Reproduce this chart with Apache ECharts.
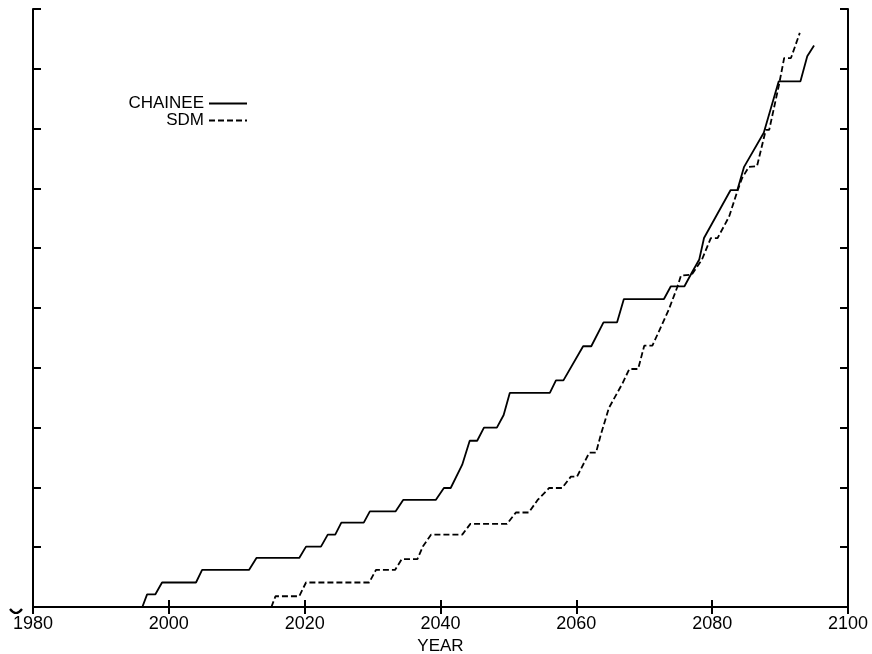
<!DOCTYPE html>
<html>
<head>
<meta charset="utf-8">
<script src="https://cdn.jsdelivr.net/npm/echarts@6/dist/echarts.min.js"></script>
<style>
html,body{margin:0;padding:0;background:#fff;}
#chart{width:872px;height:654px;}
</style>
</head>
<body>
<div id="chart"></div>
<script>
// Tick labels
var xTickLabels = [1980, 2000, 2020, 2040, 2060, 2080, 2100];

// CHAINEE series (solid)
var chaineeYears = [1996.1, 1996.8, 1998.0, 1999.0, 2004.0, 2004.9, 2011.8, 2012.9, 2019.2, 2020.2,
  2022.4, 2023.4, 2024.5, 2025.4, 2028.7, 2029.6, 2033.4, 2034.5, 2039.3, 2040.5,
  2041.5, 2043.2, 2044.3, 2045.4, 2046.4, 2048.3, 2049.3, 2050.2, 2056.1, 2057.0,
  2058.1, 2061.0, 2062.2, 2064.0, 2066.0, 2067.0, 2072.9, 2073.9, 2075.9, 2077.1,
  2078.1, 2078.8, 2082.7, 2083.7, 2084.7, 2087.6, 2089.8, 2093.0, 2094.0, 2095.0];
var chaineeValues = [0, 0.21, 0.21, 0.41, 0.41, 0.62, 0.62, 0.82, 0.82, 1.01,
  1.01, 1.21, 1.21, 1.41, 1.41, 1.60, 1.60, 1.79, 1.79, 1.99,
  1.99, 2.38, 2.78, 2.78, 3.00, 3.00, 3.21, 3.58, 3.58, 3.79,
  3.79, 4.36, 4.36, 4.76, 4.76, 5.15, 5.15, 5.36, 5.36, 5.61,
  5.81, 6.17, 6.97, 6.97, 7.36, 7.93, 8.79, 8.79, 9.21, 9.39];

// SDM series (dashed)
var sdmYears = [2015.1, 2015.7, 2019.2, 2020.2, 2029.5, 2030.5, 2033.3, 2034.3, 2036.6, 2037.4,
  2038.6, 2043.2, 2044.4, 2049.8, 2051.1, 2053.0, 2054.3, 2056.0, 2057.9, 2059.2,
  2060.1, 2061.9, 2062.9, 2063.6, 2064.8, 2066.8, 2067.8, 2069.1, 2070.0, 2071.2,
  2073.6, 2074.9, 2075.4, 2077.0, 2078.5, 2079.8, 2080.8, 2082.5, 2083.7, 2084.4,
  2085.4, 2086.6, 2087.9, 2088.4, 2089.8, 2090.6, 2091.6, 2092.9];
var sdmValues = [0, 0.18, 0.18, 0.41, 0.41, 0.62, 0.62, 0.80, 0.80, 1.01,
  1.21, 1.21, 1.39, 1.39, 1.58, 1.58, 1.79, 1.99, 1.99, 2.18,
  2.18, 2.58, 2.58, 2.88, 3.33, 3.74, 3.98, 3.98, 4.37, 4.37,
  4.97, 5.36, 5.54, 5.56, 5.81, 6.17, 6.17, 6.53, 6.95, 7.17,
  7.36, 7.37, 7.98, 7.98, 8.71, 9.18, 9.18, 9.60];

function pairs(xs, ys) { return xs.map(function (x, i) { return [x, ys[i]]; }); }

var chart = echarts.init(document.getElementById('chart'), null, {renderer: 'canvas'});
var FONT = 'Liberation Sans, Arial, Helvetica, sans-serif';
var axisLine = {show: true, lineStyle: {color: '#000', width: 2}};
var legendCommon = {
  orient: 'vertical', align: 'right', right: 624, padding: 0,
  itemWidth: 38, itemHeight: 14,
  itemStyle: {opacity: 0, borderWidth: 0},
  textStyle: {color: '#000', fontSize: 17, fontFamily: FONT}
};

chart.setOption({
  backgroundColor: '#fff',
  animation: false,
  grid: {left: 33, right: 24, top: 9, bottom: 47, containLabel: false, outerBoundsMode: 'none'},
  legend: [
    Object.assign({data: ['CHAINEE'], top: 95}, legendCommon),
    Object.assign({data: ['SDM'], top: 112}, legendCommon)
  ],
  xAxis: [
    {
      type: 'value', min: 1980, max: 2100, interval: 20, position: 'bottom',
      name: 'YEAR', nameLocation: 'middle', nameGap: 28,
      nameTextStyle: {color: '#000', fontSize: 17, fontFamily: FONT},
      axisLine: axisLine,
      axisTick: {show: true, inside: true, length: 7, lineStyle: {color: '#000', width: 2}},
      axisLabel: {show: true, color: '#000', fontSize: 18, fontFamily: FONT, margin: 8,
        formatter: function (v) { return xTickLabels.indexOf(v) >= 0 ? String(v) : ''; }},
      splitLine: {show: false}
    },
    {
      type: 'value', min: 1980, max: 2100, interval: 20, position: 'top',
      axisLine: axisLine,
      axisTick: {show: true, inside: true, length: 7, lineStyle: {color: '#000', width: 2}},
      axisLabel: {show: false},
      splitLine: {show: false}
    }
  ],
  yAxis: [
    {
      type: 'value', min: 0, max: 10, interval: 1, position: 'left',
      axisLine: axisLine,
      axisTick: {show: true, inside: true, length: 8, lineStyle: {color: '#000', width: 2}},
      axisLabel: {show: false},
      splitLine: {show: false}
    },
    {
      type: 'value', min: 0, max: 10, interval: 1, position: 'right',
      axisLine: axisLine,
      axisTick: {show: true, inside: true, length: 8, lineStyle: {color: '#000', width: 2}},
      axisLabel: {show: false},
      splitLine: {show: false}
    }
  ],
  graphic: [
    {type: 'bezierCurve', shape: {x1: 10, y1: 609, cpx1: 16, cpy1: 617, x2: 22, y2: 609},
     style: {stroke: '#000', lineWidth: 2.2, fill: null}}
  ],
  series: [
    {
      name: 'CHAINEE', type: 'line', data: pairs(chaineeYears, chaineeValues),
      symbol: 'none', showSymbol: false, smooth: false,
      lineStyle: {color: '#000', width: 1.8, type: 'solid'},
      itemStyle: {color: '#000'}
    },
    {
      name: 'SDM', type: 'line', data: pairs(sdmYears, sdmValues),
      symbol: 'none', showSymbol: false, smooth: false,
      lineStyle: {color: '#000', width: 1.8, type: [6, 3]},
      itemStyle: {color: '#000'}
    }
  ]
});
</script>
</body>
</html>
